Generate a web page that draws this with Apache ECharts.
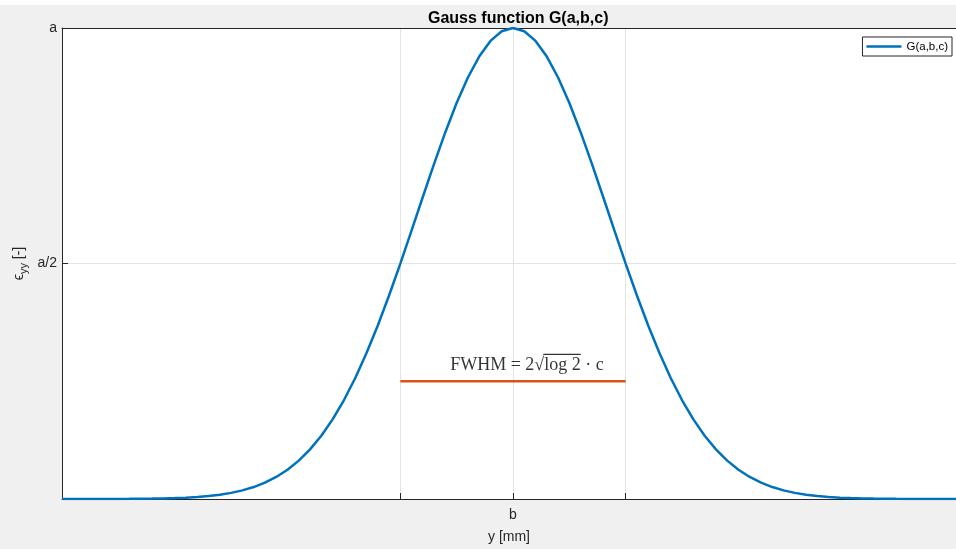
<!DOCTYPE html>
<html>
<head>
<meta charset="utf-8">
<script src="https://cdn.jsdelivr.net/npm/echarts@6/dist/echarts.min.js"></script>
<style>
  html, body { margin: 0; padding: 0; background: #f0f0f0; }
  #chart { width: 956px; height: 549px; }
</style>
</head>
<body>
<div id="chart"></div>
<script>
// Gaussian profile G(a,b,c), normalised so that a = 1, b = 0 and c = 3 (y in mm)
const xValues = [
  -10, -9.75, -9.5, -9.25, -9, -8.75, -8.5, -8.25, -8, -7.75, -7.5, -7.25, -7, -6.75, -6.5, -6.25,
  -6, -5.75, -5.5, -5.25, -5, -4.75, -4.5, -4.25, -4, -3.75, -3.5, -3.25, -3, -2.75, -2.5, -2.25,
  -2, -1.75, -1.5, -1.25, -1, -0.75, -0.5, -0.25, 0, 0.25, 0.5, 0.75, 1, 1.25, 1.5, 1.75,
  2, 2.25, 2.5, 2.75, 3, 3.25, 3.5, 3.75, 4, 4.25, 4.5, 4.75, 5, 5.25, 5.5, 5.75,
  6, 6.25, 6.5, 6.75, 7, 7.25, 7.5, 7.75, 8, 8.25, 8.5, 8.75, 9, 9.25, 9.5, 9.75, 10
];
const gValues = [
  0.00002, 0.00003, 0.00004, 0.00007, 0.00012, 0.00020, 0.00033, 0.00052, 0.00082, 0.00126, 0.00193, 0.00291, 0.00432, 0.00633, 0.00915, 0.01303,
  0.01832, 0.02538, 0.03470, 0.04677, 0.06218, 0.08152, 0.10540, 0.13440, 0.16901, 0.20961, 0.25638, 0.30925, 0.36788, 0.43159, 0.49935, 0.56978,
  0.64119, 0.71157, 0.77880, 0.84062, 0.89484, 0.93941, 0.97260, 0.99308, 1.00000, 0.99308, 0.97260, 0.93941, 0.89484, 0.84062, 0.77880, 0.71157,
  0.64119, 0.56978, 0.49935, 0.43159, 0.36788, 0.30925, 0.25638, 0.20961, 0.16901, 0.13440, 0.10540, 0.08152, 0.06218, 0.04677, 0.03470, 0.02538,
  0.01832, 0.01303, 0.00915, 0.00633, 0.00432, 0.00291, 0.00193, 0.00126, 0.00082, 0.00052, 0.00033, 0.00020, 0.00012, 0.00007, 0.00004, 0.00003, 0.00002
];

// FWHM bar: from b - c*sqrt(log 2) to b + c*sqrt(log 2), drawn at a/4
const fwhmX = [-2.4977, 2.4977];
const fwhmY = [0.25, 0.25];

const xTickValues = [-2.4977, 0, 2.4977];
const xTickLabels = ['', 'b', ''];
const yTickValues = [0, 0.5, 1];
const yTickLabels = ['', 'a/2', 'a'];

const sans = '"Liberation Sans", Arial, Helvetica, sans-serif';
const serif = '"Liberation Serif", "DejaVu Serif", serif';
const axisColor = '#262626';
const gridColor = '#e3e3e3';

const curve = xValues.map((x, i) => [x, gValues[i]]);
const fwhmLine = fwhmX.map((x, i) => [x, fwhmY[i]]);

// widths of the annotation pieces, so the radical's bar sits over "log 2"
const annFont = '18px "Liberation Serif"';
const measureCtx = document.createElement('canvas').getContext('2d');
measureCtx.font = annFont;
const annLead = 'FWHM = 2\u221A';
const annRad = 'log 2';
const annTail = ' \u00B7 c';
const leadWidth = measureCtx.measureText(annLead).width;
const radWidth = measureCtx.measureText(annRad).width;

function tickLabel(values, labels) {
  return function (v) {
    const idx = values.findIndex(t => Math.abs(t - v) < 1e-6);
    return idx >= 0 ? labels[idx] : '';
  };
}

const chart = echarts.init(document.getElementById('chart'), null, { renderer: 'canvas' });

chart.setOption({
  backgroundColor: '#f0f0f0',
  animation: false,
  graphic: [
    { type: 'rect', shape: { x: 0, y: 0, width: 956, height: 5 }, style: { fill: '#ffffff' }, silent: true }
  ],
  title: {
    text: 'Gauss function G(a,b,c)',
    left: 423,
    top: 6,
    textStyle: { fontFamily: sans, fontSize: 16, fontWeight: 'bold', color: '#000' }
  },
  legend: {
    data: ['G(a,b,c)'],
    right: 4,
    top: 37,
    orient: 'vertical',
    padding: [3, 4, 3, 4],
    icon: 'rect',
    itemWidth: 35,
    itemHeight: 2.5,
    itemGap: 0,
    backgroundColor: '#ffffff',
    borderColor: axisColor,
    borderWidth: 1,
    borderRadius: 0,
    textStyle: { fontFamily: sans, fontSize: 11.5, color: '#000', lineHeight: 13 }
  },
  grid: {
    left: 62,
    right: 0,
    top: 28,
    bottom: 49,
    show: true,
    backgroundColor: '#ffffff',
    borderWidth: 0
  },
  xAxis: [
    {
      type: 'value',
      min: -10,
      max: 9.823,
      name: 'y [mm]',
      nameLocation: 'middle',
      nameGap: 31,
      nameTextStyle: { fontFamily: sans, fontSize: 14, color: axisColor },
      axisLine: { show: true, onZero: false, lineStyle: { color: axisColor, width: 1 } },
      axisTick: {
        show: true,
        inside: true,
        length: 6,
        customValues: xTickValues,
        lineStyle: { color: axisColor }
      },
      axisLabel: {
        show: true,
        customValues: xTickValues,
        margin: 9,
        fontFamily: sans,
        fontSize: 14,
        color: axisColor,
        formatter: tickLabel(xTickValues, xTickLabels)
      },
      splitLine: { show: true, lineStyle: { color: gridColor, width: 1 } }
    },
    {
      // top edge of the axes box
      type: 'value',
      position: 'top',
      min: -10,
      max: 9.823,
      axisLine: { show: true, onZero: false, lineStyle: { color: axisColor, width: 1 } },
      axisTick: { show: false },
      axisLabel: { show: false },
      splitLine: { show: false }
    }
  ],
  yAxis: {
    type: 'value',
    min: 0,
    max: 1,
    interval: 0.5,
    name: '{eps|\u03F5}{sub|yy}{rest| [-]}',
    nameLocation: 'middle',
    nameRotate: 90,
    nameGap: 33,
    nameMoveOverlap: false,
    nameTextStyle: {
      color: axisColor,
      rich: {
        eps: { fontFamily: sans, fontSize: 14, color: axisColor },
        sub: { fontFamily: sans, fontSize: 11, color: axisColor, padding: [9, 0, 0, 0] },
        rest: { fontFamily: sans, fontSize: 14, color: axisColor }
      }
    },
    axisLine: { show: true, onZero: false, lineStyle: { color: axisColor, width: 1 } },
    axisTick: { show: true, inside: true, length: 6, lineStyle: { color: axisColor } },
    axisLabel: {
      margin: 5,
      fontFamily: sans,
      fontSize: 14,
      color: axisColor,
      formatter: tickLabel(yTickValues, yTickLabels)
    },
    splitLine: { show: true, lineStyle: { color: gridColor, width: 1 } }
  },
  series: [
    {
      name: 'G(a,b,c)',
      type: 'line',
      data: curve,
      showSymbol: false,
      symbol: 'none',
      smooth: false,
      clip: true,
      lineStyle: { color: '#0072BD', width: 2.5 },
      itemStyle: { color: '#0072BD' },
      z: 3
    },
    {
      name: 'FWHM',
      type: 'line',
      data: fwhmLine,
      showSymbol: false,
      symbol: 'none',
      lineStyle: { color: '#D95319', width: 2.5 },
      itemStyle: { color: '#D95319' },
      z: 2
    },
    {
      name: 'FWHM label',
      type: 'scatter',
      data: [[0.31, 0.286]],
      symbolSize: 0,
      silent: true,
      label: {
        show: true,
        position: 'inside',
        align: 'center',
        verticalAlign: 'middle',
        formatter: '{sp|}{bar|}\n{t|' + annLead + annRad + annTail + '}',
        rich: {
          sp: { width: leadWidth - 1, height: 1.2, lineHeight: 2, align: 'left' },
          bar: { width: radWidth + 1, height: 1.2, lineHeight: 2, align: 'left', backgroundColor: '#000' },
          t: { fontFamily: serif, fontSize: 18, color: '#000', lineHeight: 20, align: 'left' }
        }
      },
      z: 4
    }
  ]
});
</script>
</body>
</html>
